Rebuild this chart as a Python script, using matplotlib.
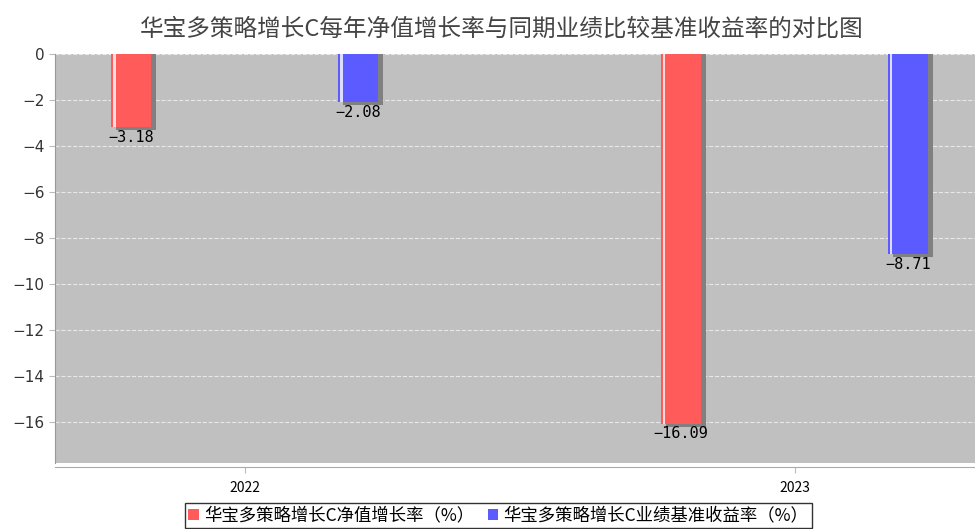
import numpy as np
import matplotlib.pyplot as plt
from matplotlib.patches import Patch

plt.rcParams['font.family'] = ['Noto Sans CJK SC', 'DejaVu Sans']

# data
years = ['2022', '2023']
nav_growth = [-3.18, -16.09]
benchmark = [-2.08, -8.71]
series_names = ['华宝多策略增长C净值增长率（%）', '华宝多策略增长C业绩基准收益率（%）']
title = '华宝多策略增长C每年净值增长率与同期业绩比较基准收益率的对比图'

red = '#ff5b5b'
blue = '#5b5bff'

fig = plt.figure(figsize=(9.75, 5.29), dpi=100)
ax = fig.add_axes([0.0564, 0.125, 0.96, 0.773])
ax.set_facecolor('#c0c0c0')

x = np.arange(len(years))
off = 0.2064
w = 0.073

for vals, pos, col in [(nav_growth, x - off, red), (benchmark, x + off, blue)]:
    # shadow
    ax.bar(pos + 0.009, np.array(vals) - 0.15, width=w, color='#808080', zorder=2)
    ax.bar(pos, vals, width=w, color=col, zorder=3)
    # highlight stripe on the left
    ax.bar(pos - w / 2 + 0.006, vals, width=0.004, color='white', alpha=0.8, zorder=4)
    for p, v in zip(pos, vals):
        ax.annotate(('%.2f' % v).replace('-', '\u2212'), (p, v), xytext=(0, -2),
                    textcoords='offset points', ha='center', va='top', fontsize=11,
                    family='DejaVu Sans Mono', zorder=5)

ax.set_xlim(-0.345, 1.357)
ax.set_ylim(-17.8, 0)
yt = list(range(-16, 1, 2))
ax.set_yticks(yt)
ax.set_yticklabels([str(v).replace('-', '\u2212') for v in yt], fontsize=11,
                   color='#333333', family='DejaVu Sans')
ax.set_xticks(x)
ax.set_xticklabels(years, fontsize=10.5, color='#333333', family='DejaVu Sans')
ax.tick_params(axis='x', length=4, color='#bbbbbb', pad=6)
ax.tick_params(axis='y', length=4, color='#bbbbbb')

ax.yaxis.grid(True, linestyle='--', color='#e8e8e8', linewidth=0.8)
ax.set_axisbelow(True)
for s in ['right', 'top']:
    ax.spines[s].set_visible(False)
ax.spines['left'].set_color('#999999')
ax.spines['bottom'].set_color('#aaaaaa')
ax.spines['bottom'].set_position(('outward', 3))

fig.text(0.515, 0.945, title, ha='center', va='center', fontsize=17, color='#444444')

handles = [Patch(facecolor=red), Patch(facecolor=blue)]
leg = fig.legend(handles, series_names, loc='lower center', bbox_to_anchor=(0.511, -0.014),
                 ncol=2, fontsize=12.5, frameon=True, fancybox=False, handlelength=0.6,
                 handleheight=0.6, handletextpad=0.3, columnspacing=0.8, borderpad=0.2)
leg.get_frame().set_edgecolor('black')
leg.get_frame().set_linewidth(1)

fig.savefig('out.png', dpi=100)
